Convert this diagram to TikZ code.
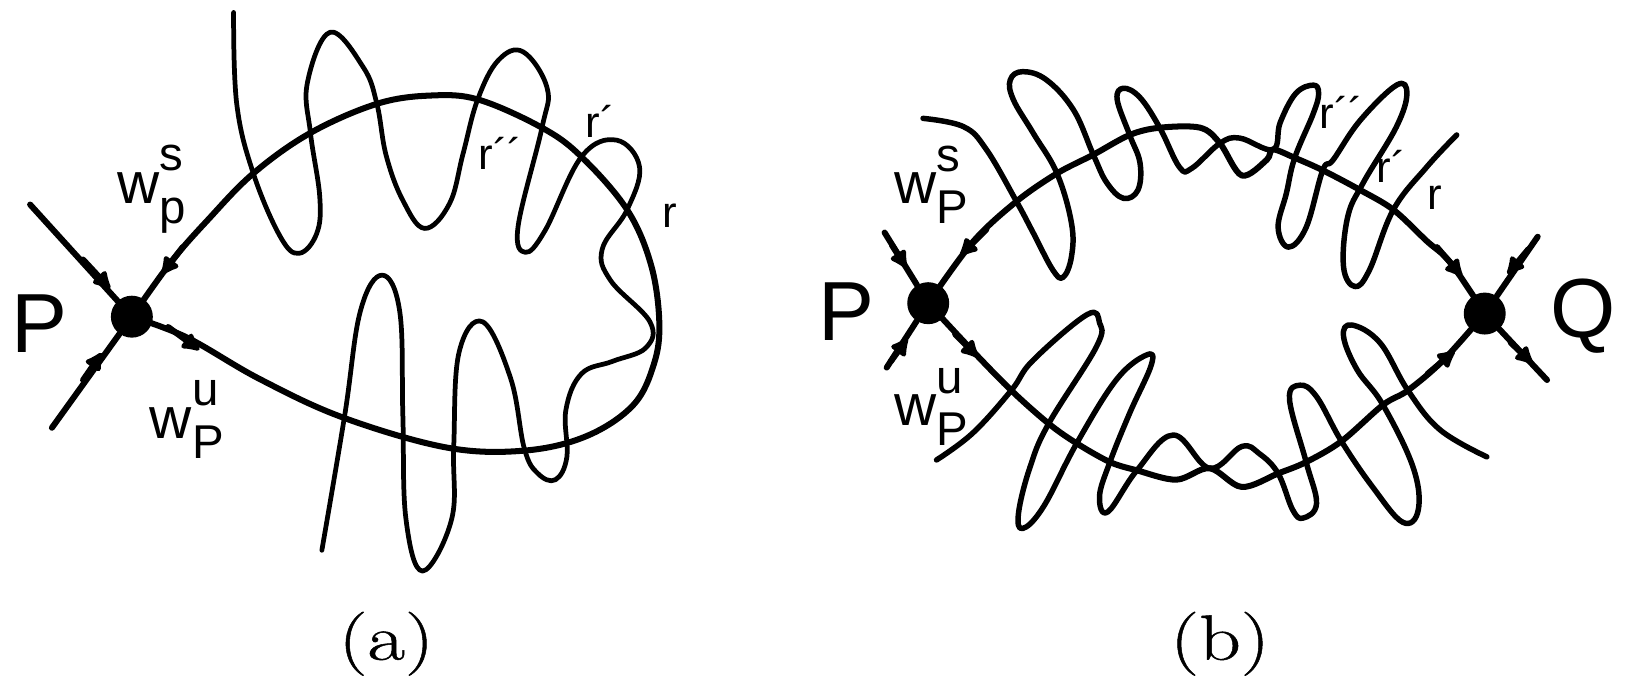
\documentclass[tikz,border=0pt]{standalone}
\usepackage{fontspec}
\setsansfont{Liberation Sans}
\newfontfamily\captfont[FakeStretch=1.28,FakeBold=0.8]{Latin Modern Roman}
\usetikzlibrary{arrows.meta}
\tikzset{
  heavy/.style={line width=3.3pt,line cap=round,line join=round},
  wiggle/.style={line width=2.6pt,line cap=round,line join=round},
  wiggleb/.style={line width=3pt,line cap=round,line join=round},
  fixpt/.style={circle,fill=black,inner sep=0pt,minimum size=23pt},
  tiplet/.style={heavy,-{Latex[length=12pt,width=12pt,round]}},
  bigname/.style={font=\sffamily\fontsize{46}{50}\selectfont,inner sep=0pt},
  mani/.style={font=\sffamily\fontsize{32}{36}\selectfont,inner sep=0pt},
  rname/.style={font=\sffamily\fontsize{24}{26}\selectfont,inner sep=0pt},
  capt/.style={font=\captfont\fontsize{35}{38}\selectfont,inner sep=0pt}
}
\newcommand{\wname}[2]{w\rlap{\raisebox{0.56em}{\fontsize{26}{30}\selectfont #1}}\raisebox{-0.34em}{\fontsize{26}{30}\selectfont #2}}
\begin{document}
\begin{tikzpicture}[>=Latex,x=0.02cm,y=-0.02cm]
  \useasboundingbox (0,0) rectangle (1568,656);

  \node[fixpt] (Pa) at (127,305) {};
  \coordinate (paUp) at (29,197);
  \coordinate (paDn) at (50,412);
  \draw[heavy] (paUp) -- (Pa);
  \draw[heavy] (paDn) -- (Pa);
  \draw[tiplet] (80,250) -- (106,278);
  \draw[tiplet] (80,366) -- (98,340);
  \draw[tiplet] (176,238) -- (156,264);
  \draw[tiplet] (162,315) -- (192,337);
  \draw[heavy] plot[smooth,tension=0.6] coordinates {(127,305) (165,252) (200,212) (244,167) (299,128) (363,100)
    (415,92) (461,96) (522,123) (560,151) (604,202) (627,255) (635,310) (630,350) (610,390) (565,420)
    (505,434) (430,431) (330,402) (250,365) (180,325) (127,305)};
  \draw[wiggle] plot[smooth,tension=0.65] coordinates {(225,12) (228,100) (244,167) (270,228) (288,244) (305,225)
    (308,190) (299,128) (296,80) (318,31) (350,65) (363,100) (372,150) (388,193) (409,220)
    (433,196) (446,148) (460,96) (480,58) (504,50) (527,85) (522,123) (499,218) (506,243) (525,222)
    (560,151) (594,135) (616,161) (604,202) (580,240) (588,270) (626,310) (622,335) (590,348) (560,360) (545,395)
    (546,440) (535,462) (518,456) (505,432) (492,365) (465,310) (442,340) (437,430) (435,500) (407,550) (391,500)
    (388,400) (385,300) (368,265) (347,300) (332,400) (310,530)};
  \node[bigname] (pA) at (38,312) {P};
  \node[mani] (wsA) at (146,182) {\wname{s}{p}};
  \node[mani] (wuA) at (180,404) {\wname{u}{P}};
  \node[rname] (rA) at (645,208) {r};
  \node[rname] (r1A) at (578,117) {r´};
  \node[rname] (r2A) at (482,148) {r´´};
  \node[capt] (capA) at (372,620) {(a)};

  \node[fixpt] (Pb) at (894,292) {};
  \node[fixpt] (Qb) at (1430,302) {};
  \coordinate (pbUp) at (852,224);
  \coordinate (pbDn) at (854,354);
  \coordinate (qbUp) at (1481,228);
  \coordinate (qbDn) at (1490,366);
  \draw[heavy] (pbUp) -- (Pb);
  \draw[heavy] (pbDn) -- (Pb);
  \draw[heavy] (qbUp) -- (Qb);
  \draw[heavy] (qbDn) -- (Qb);
  \draw[tiplet] (859,236) -- (873,258);
  \draw[tiplet] (858,348) -- (874,326);
  \draw[tiplet] (1472,240) -- (1452,264);
  \draw[tiplet] (1455,330) -- (1476,350);
  \draw[tiplet] (950,221) -- (925,246);
  \draw[tiplet] (920,322) -- (942,344);
  \draw[tiplet] (1384,238) -- (1408,266);
  \draw[tiplet] (1375,360) -- (1401,338);
  \draw[heavy] plot[smooth,tension=0.55] coordinates {(894,292) (937,233) (979,194) (1018,167) (1053,149) (1088,130)
    (1117,123) (1156,123) (1175,138) (1196,169) (1220,154) (1226,144) (1247,152) (1274,164) (1310,183)
    (1342,202) (1374,232) (1397,253) (1430,302)};
  \draw[heavy] plot[smooth,tension=0.55] coordinates {(894,292) (934,335) (974,376) (1010,408) (1037,427) (1069,445)
    (1095,453) (1133,462) (1165,451) (1196,469) (1231,456) (1258,445) (1292,425) (1332,390) (1356,376)
    (1390,347) (1430,302)};
  \draw[wiggleb] plot[smooth,tension=0.65] coordinates {(889,114) (928,122) (950,144) (979,194) (995,224) (1014,260)
    (1024,267) (1032,247) (1032,215) (1018,167) (995,128) (976,96) (973,77) (985,69) (1008,77) (1034,106)
    (1053,149) (1066,176) (1082,191) (1096,183) (1098,157) (1088,130) (1076,96) (1082,85) (1098,94) (1117,123)
    (1136,161) (1148,162) (1175,138) (1194,133) (1226,144) (1233,118) (1248,90) (1265,82) (1270,90) (1265,109)
    (1247,152) (1239,186) (1231,219) (1241,238) (1258,219) (1274,164) (1284,154) (1310,116) (1345,82) (1355,90)
    (1345,122) (1313,176) (1298,209) (1294,257) (1305,276) (1319,260) (1342,202) (1374,161) (1403,130)};
  \draw[wiggleb] plot[smooth,tension=0.65] coordinates {(902,443) (937,417) (974,376) (995,347) (1047,303) (1059,311)
    (1056,334) (1010,408) (992,450) (981,494) (985,509) (1005,488) (1037,427) (1075,366) (1104,342) (1109,351)
    (1088,398) (1069,445) (1059,478) (1067,493) (1095,453) (1130,419) (1165,451) (1196,430) (1213,437) (1231,456)
    (1245,491) (1255,499) (1268,485) (1258,445) (1242,385) (1252,371) (1268,382) (1292,425) (1322,469) (1351,503)
    (1366,491) (1361,450) (1332,390) (1307,356) (1294,324) (1302,313) (1329,330) (1356,376) (1387,414) (1432,440)};
  \node[bigname] (pB) at (815,300) {P};
  \node[bigname] (qB) at (1525,304) {Q};
  \node[mani] (wsB) at (897,178) {\wname{s}{P}};
  \node[mani] (wuB) at (897,392) {\wname{u}{P}};
  \node[rname] (rB) at (1382,190) {r};
  \node[rname] (r1B) at (1340,160) {r´};
  \node[rname] (r2B) at (1292,108) {r´´};
  \node[capt] (capB) at (1175,620) {(b)};
\end{tikzpicture}
\end{document}
